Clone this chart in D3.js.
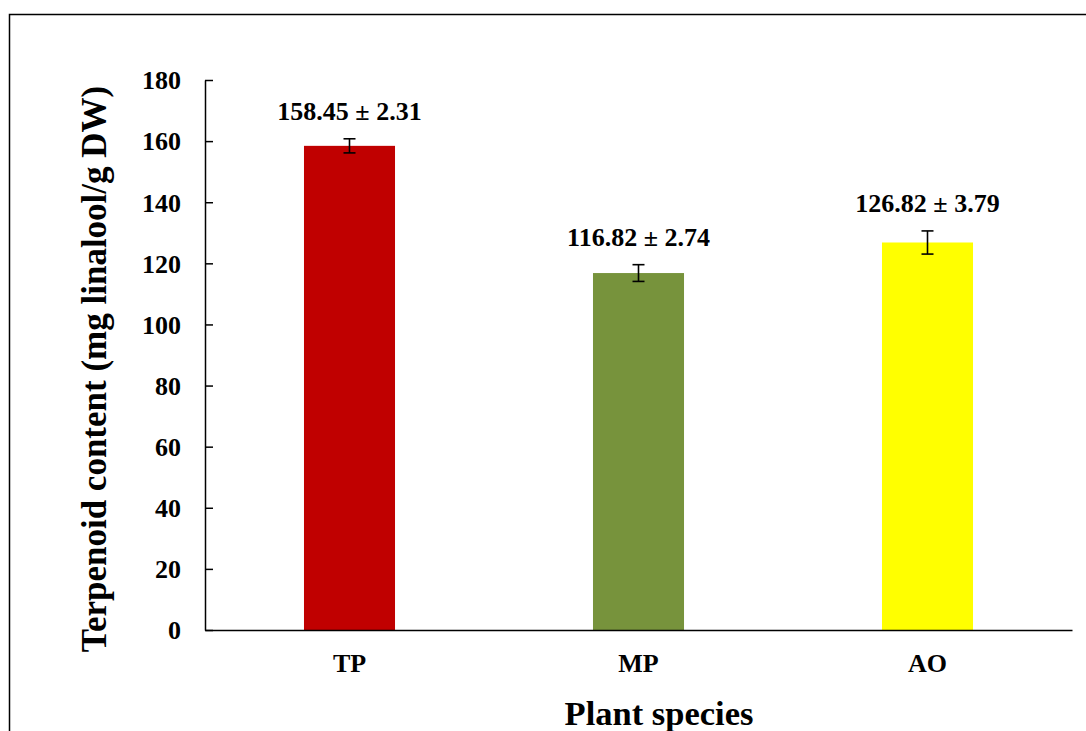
<!DOCTYPE html>
<html>
<head>
<meta charset="utf-8">
<script src="https://cdn.jsdelivr.net/npm/d3@7"></script>
<style>
  html, body { margin: 0; padding: 0; background: #fff; }
  svg { display: block; }
  text { font-family: "Liberation Serif", "Times New Roman", serif; font-weight: bold; fill: #000; }
</style>
</head>
<body>
<svg id="chart" width="1086" height="731"></svg>
<script>
// Terpenoid content per plant species (mean ± SD)
const categories = ["TP", "MP", "AO"];
const means = [158.45, 116.82, 126.82];
const errors = [2.31, 2.74, 3.79];
const barColors = ["#C00000", "#77933C", "#FFFF00"];
const yTicks = [0, 20, 40, 60, 80, 100, 120, 140, 160, 180];

const svg = d3.select("#chart");

// outer frame (runs past the right and bottom edges)
svg.append("rect")
  .attr("x", 9.5).attr("y", 14.5)
  .attr("width", 1200).attr("height", 900)
  .attr("fill", "none").attr("stroke", "#000").attr("stroke-width", 1.5);

const x = d3.scaleBand()
  .domain(categories)
  .range([205, 1072])
  .paddingInner(0.685)
  .paddingOuter(0.3425);

const y = d3.scaleLinear().domain([0, 180]).range([630, 80]);

const data = categories.map((c, i) => ({ cat: c, mean: means[i], err: errors[i], color: barColors[i] }));

// bars
svg.append("g").selectAll("rect")
  .data(data)
  .join("rect")
  .attr("x", d => x(d.cat))
  .attr("y", d => y(d.mean))
  .attr("width", x.bandwidth())
  .attr("height", d => y(0) - y(d.mean))
  .attr("fill", d => d.color);

// error bars
const eb = svg.append("g").attr("stroke", "#000").attr("stroke-width", 1.6);
data.forEach(d => {
  const cx = x(d.cat) + x.bandwidth() / 2;
  eb.append("line").attr("x1", cx).attr("x2", cx).attr("y1", y(d.mean + d.err)).attr("y2", y(d.mean - d.err));
  eb.append("line").attr("x1", cx - 6).attr("x2", cx + 6).attr("y1", y(d.mean + d.err)).attr("y2", y(d.mean + d.err));
  eb.append("line").attr("x1", cx - 6).attr("x2", cx + 6).attr("y1", y(d.mean - d.err)).attr("y2", y(d.mean - d.err));
});

// value labels
svg.append("g").selectAll("text")
  .data(data)
  .join("text")
  .attr("x", d => x(d.cat) + x.bandwidth() / 2)
  .attr("y", d => y(d.mean + d.err) - 19)
  .attr("text-anchor", "middle")
  .style("font-size", "26px")
  .text(d => d.mean.toFixed(2) + " \u00B1 " + d.err.toFixed(2));

// y axis
const yAxis = svg.append("g")
  .attr("transform", "translate(205,0)")
  .call(d3.axisLeft(y).tickValues(yTicks).tickSizeInner(-8).tickSizeOuter(0).tickPadding(24));
yAxis.select(".domain").attr("stroke", "#000").attr("stroke-width", 1.5);
yAxis.selectAll(".tick line").attr("stroke", "#000").attr("stroke-width", 1.5);
yAxis.selectAll(".tick text")
  .attr("dy", "0.34em")
  .style("font-size", "26px")
  .style("font-family", "'Liberation Serif', 'Times New Roman', serif")
  .style("font-weight", "bold");

// x axis
const xAxis = svg.append("g")
  .attr("transform", "translate(0,630)")
  .call(d3.axisBottom(x).tickSize(0).tickPadding(23.5));
xAxis.select(".domain").attr("stroke", "#000").attr("stroke-width", 1.6);
xAxis.selectAll(".tick text")
  .style("font-size", "26px")
  .style("font-family", "'Liberation Serif', 'Times New Roman', serif")
  .style("font-weight", "bold");

// axis titles
svg.append("text")
  .attr("transform", "translate(106,369) rotate(-90)")
  .attr("text-anchor", "middle")
  .style("font-size", "35px")
  .text("Terpenoid content (mg linalool/g DW)");

svg.append("text")
  .attr("x", 659).attr("y", 725)
  .attr("text-anchor", "middle")
  .style("font-size", "34.5px")
  .text("Plant species");
</script>
</body>
</html>
